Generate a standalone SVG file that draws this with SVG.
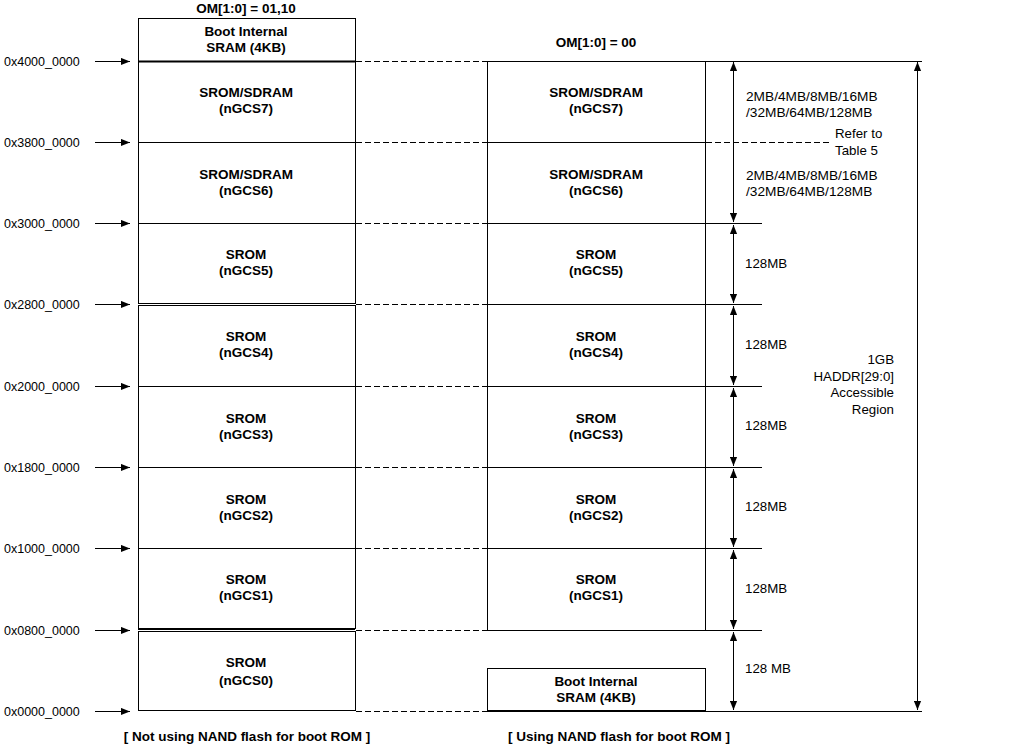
<svg xmlns="http://www.w3.org/2000/svg" width="1027" height="755" viewBox="0 0 1027 755">
<style>
text{font-family:"Liberation Sans",Arial,sans-serif;fill:#000}
.b{font-weight:bold;font-size:13.5px;text-anchor:middle}
.addr{font-size:12.5px}
.sz{font-size:13.7px}
.lb{font-size:13.3px}
.box{fill:#fff;stroke:#000;stroke-width:1}
.ln{stroke:#000;stroke-width:1;fill:none}
.dash{stroke:#000;stroke-width:1;stroke-dasharray:6 3;fill:none}
.arr{stroke:#000;stroke-width:1;fill:none;marker-end:url(#ah)}
.darr{stroke:#000;stroke-width:1;fill:none;marker-start:url(#ah);marker-end:url(#ah)}
</style>
<defs>
<marker id="ah" viewBox="0 0 10 8" refX="10" refY="4" markerWidth="9" markerHeight="8" markerUnits="userSpaceOnUse" orient="auto-start-reverse">
<path d="M0,0 L10,4 L0,8 z" fill="#000"/>
</marker>
</defs>
<rect width="1027" height="755" fill="#fff"/>

<g id="titles">
<text class="b" x="246" y="13">OM[1:0] = 01,10</text>
<text class="b" x="596" y="47">OM[1:0] = 00</text>
<text class="b" x="247" y="741">[ Not using NAND flash for boot ROM ]</text>
<text class="b" x="619" y="741">[ Using NAND flash for boot ROM ]</text>
</g>

<g id="addresses">
<text class="addr" x="4" y="65.5">0x4000_0000</text>
<text class="addr" x="4" y="146.5">0x3800_0000</text>
<text class="addr" x="4" y="227.5">0x3000_0000</text>
<text class="addr" x="4" y="308.5">0x2800_0000</text>
<text class="addr" x="4" y="390.5">0x2000_0000</text>
<text class="addr" x="4" y="471.5">0x1800_0000</text>
<text class="addr" x="4" y="552.5">0x1000_0000</text>
<text class="addr" x="4" y="634.5">0x0800_0000</text>
<text class="addr" x="4" y="715.5">0x0000_0000</text>
</g>

<g id="left-boot-sram">
<rect class="box" x="138.5" y="18.5" width="217" height="43"/>
<text class="b" x="246" y="36">Boot Internal</text>
<text class="b" x="246" y="52">SRAM (4KB)</text>
</g>
<g id="left-ngcs7">
<rect class="box" x="138.5" y="61.5" width="217" height="81"/>
<line x1="138" y1="61.5" x2="356" y2="61.5" stroke="#000" stroke-width="2"/>
<text class="b" x="246" y="97">SROM/SDRAM</text>
<text class="b" x="246" y="113">(nGCS7)</text>
</g>
<g id="left-ngcs6">
<rect class="box" x="138.5" y="142.5" width="217" height="81"/>
<text class="b" x="246" y="179">SROM/SDRAM</text>
<text class="b" x="246" y="195">(nGCS6)</text>
</g>
<g id="left-ngcs5">
<rect class="box" x="138.5" y="223.5" width="217" height="80"/>
<text class="b" x="246" y="259">SROM</text>
<text class="b" x="246" y="275">(nGCS5)</text>
</g>
<g id="left-ngcs4">
<rect class="box" x="138.5" y="305.5" width="217" height="81"/>
<text class="b" x="246" y="341">SROM</text>
<text class="b" x="246" y="357">(nGCS4)</text>
</g>
<g id="left-ngcs3">
<rect class="box" x="138.5" y="386.5" width="217" height="81"/>
<text class="b" x="246" y="423">SROM</text>
<text class="b" x="246" y="439">(nGCS3)</text>
</g>
<g id="left-ngcs2">
<rect class="box" x="138.5" y="467.5" width="217" height="81"/>
<text class="b" x="246" y="504">SROM</text>
<text class="b" x="246" y="520">(nGCS2)</text>
</g>
<g id="left-ngcs1">
<rect class="box" x="138.5" y="548.5" width="217" height="80"/>
<text class="b" x="246" y="584">SROM</text>
<text class="b" x="246" y="600">(nGCS1)</text>
</g>
<g id="left-ngcs0">
<rect class="box" x="138.5" y="631.5" width="217" height="79"/>
<text class="b" x="246" y="667">SROM</text>
<text class="b" x="246" y="685">(nGCS0)</text>
</g>

<g id="right-ngcs7">
<rect class="box" x="487.5" y="61.5" width="218" height="81"/>
<text class="b" x="596" y="97">SROM/SDRAM</text>
<text class="b" x="596" y="113">(nGCS7)</text>
</g>
<g id="right-ngcs6">
<rect class="box" x="487.5" y="142.5" width="218" height="81"/>
<text class="b" x="596" y="179">SROM/SDRAM</text>
<text class="b" x="596" y="195">(nGCS6)</text>
</g>
<g id="right-ngcs5">
<rect class="box" x="487.5" y="223.5" width="218" height="81"/>
<text class="b" x="596" y="259">SROM</text>
<text class="b" x="596" y="275">(nGCS5)</text>
</g>
<g id="right-ngcs4">
<rect class="box" x="487.5" y="304.5" width="218" height="82"/>
<text class="b" x="596" y="341">SROM</text>
<text class="b" x="596" y="357">(nGCS4)</text>
</g>
<g id="right-ngcs3">
<rect class="box" x="487.5" y="386.5" width="218" height="81"/>
<text class="b" x="596" y="423">SROM</text>
<text class="b" x="596" y="439">(nGCS3)</text>
</g>
<g id="right-ngcs2">
<rect class="box" x="487.5" y="467.5" width="218" height="81"/>
<text class="b" x="596" y="504">SROM</text>
<text class="b" x="596" y="520">(nGCS2)</text>
</g>
<g id="right-ngcs1">
<rect class="box" x="487.5" y="548.5" width="218" height="82"/>
<text class="b" x="596" y="584">SROM</text>
<text class="b" x="596" y="600">(nGCS1)</text>
</g>
<g id="right-boot-sram">
<rect class="box" x="487.5" y="668.5" width="218" height="42"/>
<text class="b" x="596" y="686">Boot Internal</text>
<text class="b" x="596" y="702">SRAM (4KB)</text>
</g>

<g id="size-labels">
<text class="sz" x="746" y="101">2MB/4MB/8MB/16MB</text>
<text class="sz" x="746" y="117">/32MB/64MB/128MB</text>
<text class="lb" x="835" y="138">Refer to</text>
<text class="lb" x="835" y="155">Table 5</text>
<text class="sz" x="746" y="180">2MB/4MB/8MB/16MB</text>
<text class="sz" x="746" y="196">/32MB/64MB/128MB</text>
<text class="lb" x="745" y="268">128MB</text>
<text class="lb" x="745" y="349">128MB</text>
<text class="lb" x="745" y="430">128MB</text>
<text class="lb" x="745" y="511">128MB</text>
<text class="lb" x="745" y="593">128MB</text>
<text class="lb" x="745" y="673">128 MB</text>
</g>
<g id="region-label">
<text class="lb" x="894" y="364" text-anchor="end">1GB</text>
<text class="lb" x="894" y="381" text-anchor="end">HADDR[29:0]</text>
<text class="lb" x="894" y="397" text-anchor="end">Accessible</text>
<text class="lb" x="894" y="414" text-anchor="end">Region</text>
</g>

<g id="connectors">
<line class="arr" x1="95" y1="61.5" x2="130" y2="61.5"/>
<line class="arr" x1="95" y1="142.5" x2="130" y2="142.5"/>
<line class="arr" x1="95" y1="223.5" x2="130" y2="223.5"/>
<line class="arr" x1="95" y1="304.5" x2="130" y2="304.5"/>
<line class="arr" x1="95" y1="386.5" x2="130" y2="386.5"/>
<line class="arr" x1="95" y1="467.5" x2="130" y2="467.5"/>
<line class="arr" x1="95" y1="548.5" x2="130" y2="548.5"/>
<line class="arr" x1="95" y1="630.5" x2="130" y2="630.5"/>
<line class="arr" x1="95" y1="711.5" x2="130" y2="711.5"/>

<line class="ln" x1="138" y1="303.5" x2="355" y2="303.5"/>
<line class="ln" x1="138" y1="305.5" x2="355" y2="305.5"/>
<line class="ln" x1="138" y1="629.5" x2="355" y2="629.5"/>
<line class="ln" x1="138" y1="631.5" x2="355" y2="631.5"/>

<line class="dash" x1="356" y1="61.5" x2="487" y2="61.5"/>
<line class="dash" x1="356" y1="142.5" x2="487" y2="142.5"/>
<line class="dash" x1="356" y1="223.5" x2="487" y2="223.5"/>
<line class="dash" x1="356" y1="304.5" x2="487" y2="304.5"/>
<line class="dash" x1="356" y1="386.5" x2="487" y2="386.5"/>
<line class="dash" x1="356" y1="467.5" x2="487" y2="467.5"/>
<line class="dash" x1="356" y1="548.5" x2="487" y2="548.5"/>
<line class="dash" x1="356" y1="630.5" x2="487" y2="630.5"/>
<line class="dash" x1="356" y1="711.5" x2="487" y2="711.5"/>
<line class="dash" x1="706" y1="142.5" x2="832" y2="142.5"/>

<line class="ln" x1="705" y1="61.5" x2="922" y2="61.5"/>
<line class="ln" x1="705" y1="223.5" x2="762" y2="223.5"/>
<line class="ln" x1="705" y1="304.5" x2="762" y2="304.5"/>
<line class="ln" x1="705" y1="386.5" x2="762" y2="386.5"/>
<line class="ln" x1="705" y1="467.5" x2="762" y2="467.5"/>
<line class="ln" x1="705" y1="548.5" x2="762" y2="548.5"/>
<line class="ln" x1="705" y1="630.5" x2="762" y2="630.5"/>
<line class="ln" x1="487" y1="711.5" x2="922" y2="711.5"/>

<line class="darr" x1="733.5" y1="62" x2="733.5" y2="222"/>
<line class="darr" x1="733.5" y1="225" x2="733.5" y2="303"/>
<line class="darr" x1="733.5" y1="306" x2="733.5" y2="385"/>
<line class="darr" x1="733.5" y1="388" x2="733.5" y2="466"/>
<line class="darr" x1="733.5" y1="469" x2="733.5" y2="547"/>
<line class="darr" x1="733.5" y1="550" x2="733.5" y2="629"/>
<line class="darr" x1="733.5" y1="632" x2="733.5" y2="710"/>
<line class="darr" x1="917.5" y1="62" x2="917.5" y2="710"/>
</g>
</svg>
